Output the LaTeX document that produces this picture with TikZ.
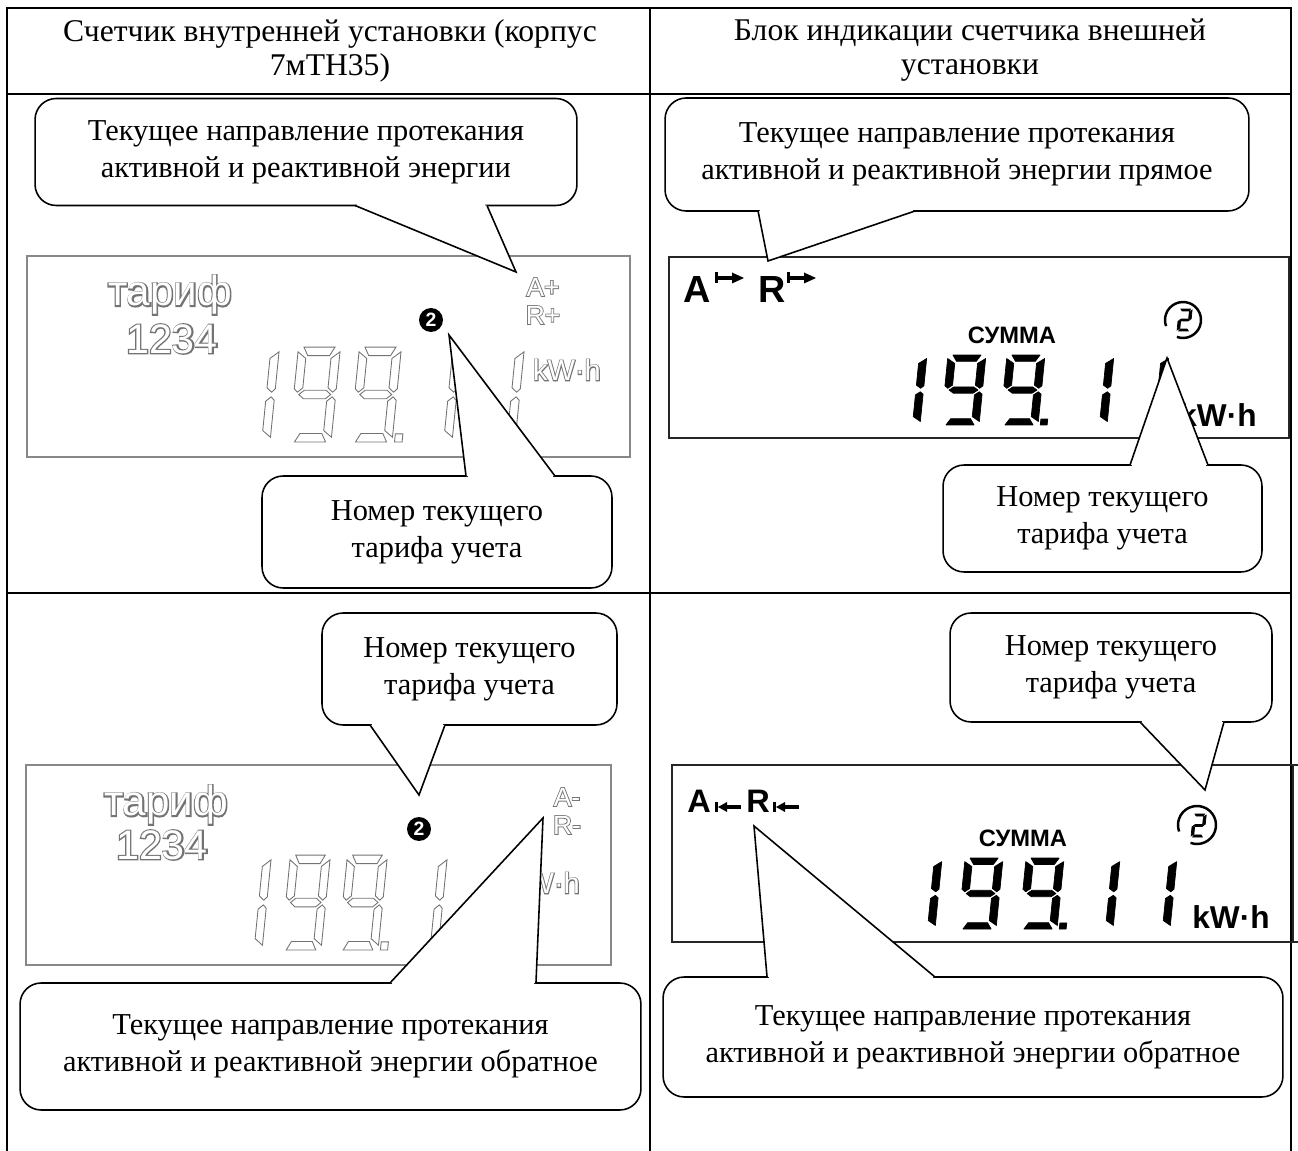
\documentclass[tikz,border=0pt]{standalone}
\usepackage{fontspec}
\setmainfont{Liberation Serif}
\newfontfamily\lcdfont{Liberation Sans}
\newfontfamily\lcdfat[FakeBold=6]{Liberation Sans}
\usepackage{xcolor}
\usepackage{tikz}

\definecolor{lcdgray}{gray}{0.45}

% segments of one lcd digit (width 1, height 2)
\newcommand{\segA}{(0.13,2) -- (0.87,2) -- (0.76,1.82) -- (0.24,1.82) -- cycle}
\newcommand{\segB}{(1,1.9) -- (1,1.12) -- (0.92,1.05) -- (0.8,1.14) -- (0.8,1.76) -- cycle}
\newcommand{\segC}{(1,0.88) -- (1,0.1) -- (0.8,0.24) -- (0.8,0.86) -- (0.92,0.95) -- cycle}
\newcommand{\segD}{(0.13,0) -- (0.87,0) -- (0.76,0.18) -- (0.24,0.18) -- cycle}
\newcommand{\segE}{(0,0.88) -- (0,0.1) -- (0.2,0.24) -- (0.2,0.86) -- (0.08,0.95) -- cycle}
\newcommand{\segF}{(0,1.9) -- (0,1.12) -- (0.08,1.05) -- (0.2,1.14) -- (0.2,1.76) -- cycle}
\newcommand{\segG}{(0.12,1) -- (0.24,1.09) -- (0.76,1.09) -- (0.88,1) -- (0.76,0.91) -- (0.24,0.91) -- cycle}
\newcommand{\segP}{(1.06,0) -- (1.24,0) -- (1.24,0.17) -- (1.06,0.17) -- cycle}

% #1 bottom left, #2 width, #3 height, #4 style, #5 segments
\newcommand{\lcddigit}[5]{%
  \begin{scope}[shift={#1}, x={(#2*0.02cm,0)}, y={(0,#3*0.01cm)}, xslant=0.1]
    \foreach \s in {#5}{%
      \expandafter\let\expandafter\segpath\csname seg\s\endcsname
      \path[#4] \segpath;}
  \end{scope}}

% outlined lcd lettering
\newcommand{\hollow}[1]{\rlap{\color{lcdgray}\lcdfat #1}\lcdfont\color{white}#1}

% callout tail: base, tip, base
\newcommand{\tailto}[3]{%
  \fill[white] (#1) -- (#2) -- (#3) -- cycle;
  \draw[white, line width=2pt, shorten <=1pt, shorten >=1pt] (#1) -- (#3);
  \draw[tail] (#1) -- (#2) -- (#3);}

% direction signs
\newcommand{\fwdsign}[2]{%
  \begin{scope}[shift={(#1,#2)}]
    \fill (0,-5.5) rectangle (3,5.5);
    \fill (3,-1.7) rectangle (19,1.7);
    \fill (17,-5.5) -- (29,0) -- (17,5.5) -- cycle;
  \end{scope}}
\newcommand{\revsign}[2]{%
  \begin{scope}[shift={(#1,#2)}]
    \fill (0,-5) rectangle (2.5,5);
    \fill (3,0) -- (12,-5) -- (12,5) -- cycle;
    \fill (11,-1.6) rectangle (26,1.6);
  \end{scope}}

\tikzset{
  frame/.style={line width=1.1pt},
  hdr/.style={align=center, inner sep=0pt, font=\fontsize{18}{19.3}\selectfont},
  bubble/.style={draw, fill=white, rounded corners=12pt, line width=0.9pt, outer sep=0pt,
    align=center, inner sep=0pt, font=\fontsize{17.3}{21}\selectfont},
  tail/.style={line width=0.9pt, line join=miter},
  lcdpale/.style={draw=lcdgray!85, line width=0.8pt},
  lcddark/.style={draw=black!85, line width=1.2pt},
  hollowseg/.style={draw=lcdgray, fill=white, line width=0.5pt},
  solidseg/.style={fill=black, draw=black, line width=0.4pt, line join=round},
  ringseg/.style={fill=black, draw=black, line width=0.4pt},
  lcdword/.style={inner sep=0pt},
  tarnum/.style={circle, fill=black, text=white, inner sep=0pt, minimum size=0.48cm,
    font=\lcdfont\bfseries\fontsize{11}{11}\selectfont}
}

\begin{document}
\begin{tikzpicture}[x=0.02cm, y=-0.02cm]
  \useasboundingbox (0,0) rectangle (1298,1151);

  % table
  \draw[frame] (7,1151) -- (7,8) -- (1291,8) -- (1291,1151);
  \draw[frame] (7,94) -- (1291,94);
  \draw[frame] (7,593) -- (1291,593);
  \draw[frame] (650,8) -- (650,1151);

  \node[hdr] (hdrL) at (330,51) {Счетчик внутренней установки (корпус\\7мТН35)};
  \node[hdr] (hdrR) at (970,50) {Блок индикации счетчика внешней\\установки};

  % indoor meter, forward
  \draw[lcdpale] (27,256) rectangle (630,457);
  \node[lcdword, font=\fontsize{24}{24}\selectfont] (wordTL) at (170,295) {\hollow{тариф}};
  \node[lcdword, font=\fontsize{23.5}{23.5}\selectfont] (zoneTL) at (172,339) {\hollow{1234}};
  \node[lcdword, font=\fontsize{15}{15}\selectfont] (aTL) at (543,287) {\hollow{A+}};
  \node[lcdword, font=\fontsize{15}{15}\selectfont] (rTL) at (543,315) {\hollow{R+}};
  \node[lcdword, font=\fontsize{16.5}{16.5}\selectfont] (unitTL) at (567,370) {\hollow{kW·h}};
  \node[tarnum] (numTL) at (431,320) {2};
  \lcddigit{(228,442)}{42}{95}{hollowseg}{B,C}
  \lcddigit{(289,442)}{42}{95}{hollowseg}{A,B,C,D,F,G}
  \lcddigit{(350,442)}{42}{95}{hollowseg}{A,B,C,D,F,G,P}
  \lcddigit{(410,442)}{42}{95}{hollowseg}{B,C}
  \lcddigit{(473,442)}{42}{95}{hollowseg}{B,C}

  % outdoor display, forward
  \draw[lcddark] (669,257) rectangle (1289,438);
  \node[lcdword, font=\lcdfont\bfseries\fontsize{21.5}{21.5}\selectfont] (aTR) at (697,290) {A};
  \fwdsign{715}{278}
  \node[lcdword, font=\lcdfont\bfseries\fontsize{21.5}{21.5}\selectfont] (rTR) at (772,290) {R};
  \fwdsign{787}{278}
  \node[lcdword, font=\lcdfont\bfseries\fontsize{13.5}{13.5}\selectfont] (sumTR) at (1012,335) {СУММА};
  \draw[line width=1.4pt] (1183,320) ++(250:0.36cm) arc[start angle=250, end angle=560, radius=0.36cm];
  \lcddigit{(1177,331)}{13}{22}{ringseg}{A,B,G,E,D}
  \lcddigit{(882,425)}{38}{70}{solidseg}{B,C}
  \lcddigit{(941,425)}{38}{70}{solidseg}{A,B,C,D,F,G}
  \lcddigit{(1000,425)}{38}{70}{solidseg}{A,B,C,D,F,G,P}
  \lcddigit{(1069,425)}{38}{70}{solidseg}{B,C}
  \lcddigit{(1124,425)}{38}{70}{solidseg}{B,C}
  \node[lcdword, anchor=base east, font=\lcdfont\bfseries\fontsize{18}{18}\selectfont] (unitTR) at (1257,427) {kW·h};

  % indoor meter, reverse
  \draw[lcdpale] (26,765) rectangle (611,965);
  \node[lcdword, font=\fontsize{24}{24}\selectfont] (wordBL) at (166,805) {\hollow{тариф}};
  \node[lcdword, font=\fontsize{23.5}{23.5}\selectfont] (zoneBL) at (162,845) {\hollow{1234}};
  \node[lcdword, font=\fontsize{15}{15}\selectfont] (aBL) at (567,797) {\hollow{A-}};
  \node[lcdword, font=\fontsize{15}{15}\selectfont] (rBL) at (567,825) {\hollow{R-}};
  \node[lcdword, font=\fontsize{16.5}{16.5}\selectfont] (unitBL) at (546,883) {\hollow{kW·h}};
  \node[tarnum] (numBL) at (419,829) {2};
  \lcddigit{(222,950)}{40}{95}{hollowseg}{B,C}
  \lcddigit{(281,950)}{40}{95}{hollowseg}{A,B,C,D,F,G}
  \lcddigit{(338,950)}{40}{95}{hollowseg}{A,B,C,D,F,G,P}
  \lcddigit{(398,950)}{40}{95}{hollowseg}{B,C}
  \lcddigit{(457,950)}{40}{95}{hollowseg}{B,C}

  % outdoor display, reverse
  \draw[lcddark] (1298,765) -- (672,765) -- (672,942) -- (1298,942);
  \draw[lcddark] (1293,765) -- (1293,942);
  \node[lcdword, font=\lcdfont\bfseries\fontsize{18.5}{18.5}\selectfont] (aBR) at (699,801) {A};
  \revsign{715}{807}
  \node[lcdword, font=\lcdfont\bfseries\fontsize{18.5}{18.5}\selectfont] (rBR) at (758,801) {R};
  \revsign{773}{807}
  \node[lcdword, font=\lcdfont\bfseries\fontsize{13.5}{13.5}\selectfont] (sumBR) at (1023,838) {СУММА};
  \draw[line width=1.4pt] (1197,825) ++(250:0.38cm) arc[start angle=250, end angle=560, radius=0.38cm];
  \lcddigit{(1191,837)}{13}{23}{ringseg}{A,B,G,E,D}
  \lcddigit{(897,929)}{38}{71}{solidseg}{B,C}
  \lcddigit{(958,929)}{38}{71}{solidseg}{A,B,C,D,F,G}
  \lcddigit{(1019,929)}{38}{71}{solidseg}{A,B,C,D,F,G,P}
  \lcddigit{(1075,929)}{38}{71}{solidseg}{B,C}
  \lcddigit{(1132,929)}{38}{71}{solidseg}{B,C}
  \node[lcdword, anchor=base east, font=\lcdfont\bfseries\fontsize{18}{18}\selectfont] (unitBR) at (1270,928) {kW·h};

  % callouts
  \node[bubble, minimum width=10.84cm, minimum height=2.14cm] (dirTL) at (306,152)
    {Текущее направление протекания\\активной и реактивной энергии};
  \coordinate (dirTLa) at ([xshift=0.98cm]dirTL.south);
  \coordinate (dirTLb) at ([xshift=3.62cm]dirTL.south);
  \coordinate (dirTLtip) at (516,272);
  \tailto{dirTLa}{dirTLtip}{dirTLb}

  \node[bubble, minimum width=7cm, minimum height=2.24cm] (tarTL) at (437,532)
    {Номер текущего\\тарифа учета};
  \coordinate (tarTLa) at ([xshift=0.58cm]tarTL.north);
  \coordinate (tarTLb) at ([xshift=2.36cm]tarTL.north);
  \coordinate (tarTLtip) at (449,335);
  \tailto{tarTLa}{tarTLtip}{tarTLb}

  \node[bubble, minimum width=11.68cm, minimum height=2.26cm] (dirTR) at (957,154.5)
    {Текущее направление протекания\\активной и реактивной энергии прямое};
  \coordinate (dirTRa) at ([xshift=-3.98cm]dirTR.south);
  \coordinate (dirTRb) at ([xshift=-0.84cm]dirTR.south);
  \coordinate (dirTRtip) at (768,261);
  \tailto{dirTRa}{dirTRtip}{dirTRb}

  \node[bubble, minimum width=6.38cm, minimum height=2.14cm] (tarTR) at (1102.5,518.5)
    {Номер текущего\\тарифа учета};
  \coordinate (tarTRa) at ([xshift=0.55cm]tarTR.north);
  \coordinate (tarTRb) at ([xshift=2.11cm]tarTR.north);
  \coordinate (tarTRtip) at (1167,358);
  \tailto{tarTRa}{tarTRtip}{tarTRb}

  \node[bubble, minimum width=5.9cm, minimum height=2.24cm] (tarBL) at (469.5,669)
    {Номер текущего\\тарифа учета};
  \coordinate (tarBLa) at ([xshift=-1.99cm]tarBL.south);
  \coordinate (tarBLb) at ([xshift=-0.49cm]tarBL.south);
  \coordinate (tarBLtip) at (419,795);
  \tailto{tarBLa}{tarBLtip}{tarBLb}

  \node[bubble, minimum width=12.42cm, minimum height=2.54cm] (dirBL) at (330.5,1046.5)
    {Текущее направление протекания\\активной и реактивной энергии обратное};
  \coordinate (dirBLa) at ([xshift=1.19cm]dirBL.north);
  \coordinate (dirBLb) at ([xshift=4.11cm]dirBL.north);
  \coordinate (dirBLtip) at (543,818);
  \tailto{dirBLa}{dirBLtip}{dirBLb}

  \node[bubble, minimum width=6.44cm, minimum height=2.18cm] (tarBR) at (1111,667.5)
    {Номер текущего\\тарифа учета};
  \coordinate (tarBRa) at ([xshift=0.58cm]tarBR.south);
  \coordinate (tarBRb) at ([xshift=2.26cm]tarBR.south);
  \coordinate (tarBRtip) at (1205,790);
  \tailto{tarBRa}{tarBRtip}{tarBRb}

  \node[bubble, minimum width=12.4cm, minimum height=2.4cm] (dirBR) at (973,1037)
    {Текущее направление протекания\\активной и реактивной энергии обратное};
  \coordinate (dirBRa) at ([xshift=-4.12cm]dirBR.north);
  \coordinate (dirBRb) at ([xshift=-0.76cm]dirBR.north);
  \coordinate (dirBRtip) at (754,826);
  \tailto{dirBRa}{dirBRtip}{dirBRb}
\end{tikzpicture}
\end{document}
